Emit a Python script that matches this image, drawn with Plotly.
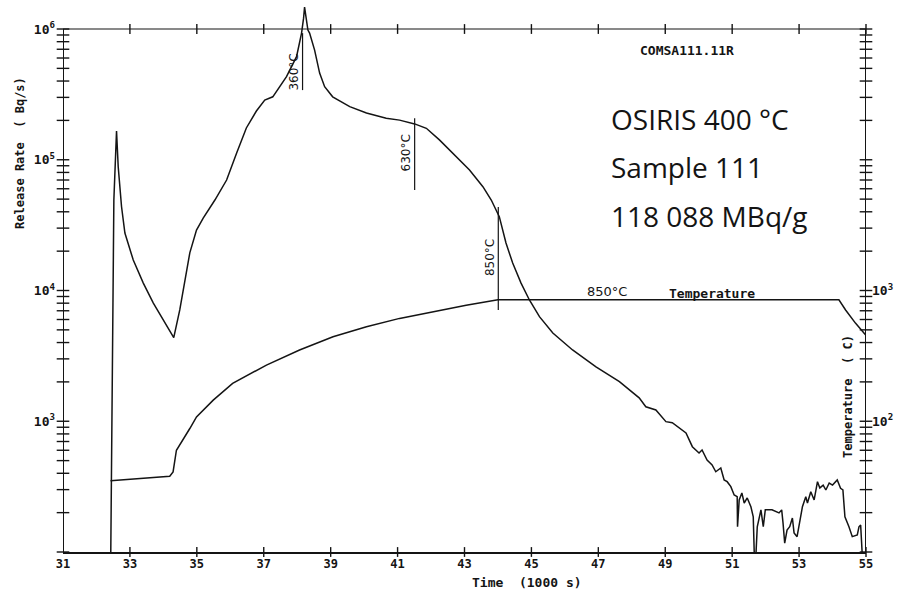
import math
import plotly.graph_objects as go

# Release rate (Bq/s) versus time (1000 s)
time_rate = [32.42, 32.47, 32.52, 32.60, 32.65, 32.75, 32.85, 33.10, 33.40, 33.70,
             34.04, 34.31, 34.49, 34.64, 34.79, 34.99, 35.19, 35.54, 35.89, 36.19,
             36.48, 36.78, 37.03, 37.27, 37.68, 37.98, 38.13, 38.19, 38.22, 38.32,
             38.37, 38.52, 38.67, 38.82, 39.06, 39.57, 40.07, 40.66, 41.06, 41.51,
             41.86, 42.25, 42.65, 43.15, 43.55, 43.80, 44.04, 44.24, 44.44, 44.69,
             44.94, 45.24, 45.64, 46.23, 46.93, 47.63, 48.22, 48.42, 48.72, 49.02,
             49.21, 49.42, 49.62, 49.81, 50.01, 50.10, 50.25, 50.40, 50.51, 50.66,
             50.76, 50.85, 50.96, 51.06, 51.15, 51.16, 51.21, 51.29, 51.36, 51.45,
             51.56, 51.63, 51.66, 51.71, 51.75, 51.86, 51.93, 51.99, 52.19, 52.40,
             52.48, 52.52, 52.57, 52.64, 52.72, 52.80, 52.85, 52.94, 53.00, 53.10,
             53.20, 53.25, 53.35, 53.45, 53.55, 53.62, 53.72, 53.80, 53.90, 54.00,
             54.14, 54.24, 54.31, 54.37, 54.49, 54.59, 54.74, 54.79, 54.84, 54.89, 54.94]
rate = [58, 2940, 49200, 166000, 88500, 43700, 27500, 17100, 11400, 8020,
        5640, 4360, 7100, 11400, 19400, 29000, 35800, 49200, 70000, 112700,
        175000, 236000, 286000, 303000, 432000, 614000, 931000, 1210000, 1470000, 983000,
        931000, 690000, 460000, 362000, 303000, 255000, 228000, 208000, 201000, 188000,
        174000, 142000, 113000, 83500, 62200, 49200, 36700, 23100, 16200, 11400,
        8460, 6310, 4730, 3510, 2610, 2010, 1510, 1290, 1220, 993,
        975, 887, 813, 639, 572, 603, 505, 463, 411, 439,
        356, 345, 316, 273, 265, 156, 250, 283, 237, 259,
        222, 186, 98, 95, 156, 210, 156, 210, 210, 199,
        210, 167, 117, 147, 156, 182, 140, 131, 156, 222,
        265, 237, 289, 250, 345, 309, 325, 298, 337, 325,
        356, 307, 298, 186, 156, 131, 135, 156, 161, 104, 54]

# Furnace temperature (C) versus time (1000 s)
time_temp = [32.42, 34.19, 34.29, 34.39, 34.79, 34.99, 35.49, 36.07, 37.08, 38.07,
             39.07, 40.07, 41.06, 42.05, 43.05, 44.00, 54.19, 54.39, 54.69, 54.99, 55.19]
temperature = [35, 38, 41, 60, 88, 108, 145, 195, 269, 351,
               443, 528, 612, 689, 770, 850, 850, 710, 561, 457, 394]

# Axis ticks
x_ticks = list(range(31, 56, 2))
rate_label_vals = [1e3, 1e4, 1e5, 1e6]
rate_label_text = ["10<sup>3</sup>", "10<sup>4</sup>", "10<sup>5</sup>", "10<sup>6</sup>"]
temp_label_vals = [100, 1000]
temp_label_text = ["10<sup>2</sup>", "10<sup>3</sup>"]
log_minor = [m * 10 ** e for e in range(2, 6) for m in range(1, 10)] + [1e6]

# Hand-marked temperatures along the release curve
mark_time = [38.16, 41.51, 44.01]
mark_top = [9.3e5, 2.08e5, 4.36e4]
mark_bottom = [3.41e5, 5.87e4, 7.1e3]
mark_label_y = [4.69e5, 1.13e5, 1.78e4]
mark_text = ["360°C", "630°C", "850°C"]

X_MIN, X_MAX = 31, 55
Y_LOW, Y_HIGH = 1e2, 1e6
INK = "#141414"
MONO = "DejaVu Sans Mono"

fig = go.Figure()
fig.add_trace(go.Scatter(x=time_rate, y=rate, mode="lines",
                         line=dict(color=INK, width=1.5), yaxis="y", showlegend=False))
fig.add_trace(go.Scatter(x=time_temp, y=temperature, mode="lines",
                         line=dict(color=INK, width=1.5), yaxis="y2", showlegend=False))

# crossing tick marks on the left/right axes and on the top/bottom edges
tick_style = dict(color=INK, line=dict(color=INK, width=1.4))
fig.add_trace(go.Scatter(
    x=[X_MIN] * len(log_minor) + [X_MAX] * len(log_minor), y=log_minor + log_minor,
    mode="markers", marker=dict(symbol="line-ew", size=9, **tick_style),
    cliponaxis=False, hoverinfo="skip", showlegend=False))
fig.add_trace(go.Scatter(
    x=x_ticks[1:] * 2, y=[Y_LOW] * (len(x_ticks) - 1) + [Y_HIGH] * (len(x_ticks) - 1),
    mode="markers", marker=dict(symbol="line-ns", size=7, **tick_style),
    cliponaxis=False, hoverinfo="skip", showlegend=False))

shapes = []
# frame (top, left, right); bottom comes from the x axis line
shapes.append(dict(type="line", xref="x", yref="y", x0=X_MIN, x1=X_MAX, y0=Y_HIGH, y1=Y_HIGH,
                   line=dict(color=INK, width=1.2)))
for xv in (X_MIN, X_MAX):
    shapes.append(dict(type="line", xref="x", yref="y", x0=xv, x1=xv, y0=Y_LOW, y1=Y_HIGH,
                       line=dict(color=INK, width=2)))
# temperature marks
for t, top, bot in zip(mark_time, mark_top, mark_bottom):
    shapes.append(dict(type="line", xref="x", yref="y", x0=t, x1=t, y0=bot, y1=top,
                       line=dict(color=INK, width=1.2)))

annotations = []
for t, yv, txt in zip(mark_time, mark_label_y, mark_text):
    annotations.append(dict(x=t, y=math.log10(yv), xref="x", yref="y", text=txt,
                            textangle=-90, showarrow=False, xshift=-9,
                            xanchor="center", yanchor="middle",
                            font=dict(family="DejaVu Sans", size=12, color=INK)))


def note(x, y, text, ref="paper", size=12, family=MONO, weight="bold", angle=0, xanchor="center"):
    return dict(x=x, y=y, xref="x" if ref == "data" else "paper",
                yref="y" if ref == "data" else "paper", text=text, showarrow=False,
                textangle=angle, xanchor=xanchor, yanchor="middle",
                font=dict(family=family, size=size, color=INK, weight=weight))


annotations += [
    note(47.27, 3.99, "850°C", ref="data", size=13, family="DejaVu Sans", weight="normal"),
    note(50.40, 3.98, "Temperature", ref="data", size=13),
    note(0.777, 0.919, "COMSA111.11R", size=13),
    note(47.33, 5.312, "OSIRIS 400 °C", ref="data", size=28, family="Open Sans",
         weight="normal", xanchor="left"),
    note(47.33, 4.945, "Sample 111", ref="data", size=28, family="Open Sans",
         weight="normal", xanchor="left"),
    note(47.33, 4.570, "118 088 MBq/g", ref="data", size=28, family="Open Sans",
         weight="normal", xanchor="left"),
    note(-0.0535, 0.731, "Release Rate  ( Bq/s)", angle=-90, size=12),
    note(0.9776, 0.284, "Temperature  ( C)", angle=-90, size=12),
    note(0.578, -0.056, "Time  (1000 s)", size=13),
]

tick_font = dict(family=MONO, size=12, color=INK, weight="bold")
fig.update_layout(
    width=911, height=591,
    margin=dict(l=63, r=45, t=6, b=39),
    paper_bgcolor="white", plot_bgcolor="white",
    xaxis=dict(range=[X_MIN, X_MAX], tickvals=x_ticks, ticks="", showgrid=False,
               zeroline=False, showline=True, linecolor=INK, linewidth=2,
               tickfont=tick_font, ticklabelstandoff=0),
    yaxis=dict(type="log", range=[2, 6.176], tickvals=rate_label_vals, ticktext=rate_label_text,
               ticks="", showgrid=False, zeroline=False, showline=False,
               tickfont=dict(tick_font, size=13), ticklabelstandoff=7),
    yaxis2=dict(type="log", range=[1, 5.176], overlaying="y", side="right",
                tickvals=temp_label_vals, ticktext=temp_label_text, ticks="",
                showgrid=False, zeroline=False, showline=False,
                tickfont=dict(tick_font, size=13), ticklabelstandoff=5),
    shapes=shapes,
    annotations=annotations,
)

fig.write_html("out.html")
